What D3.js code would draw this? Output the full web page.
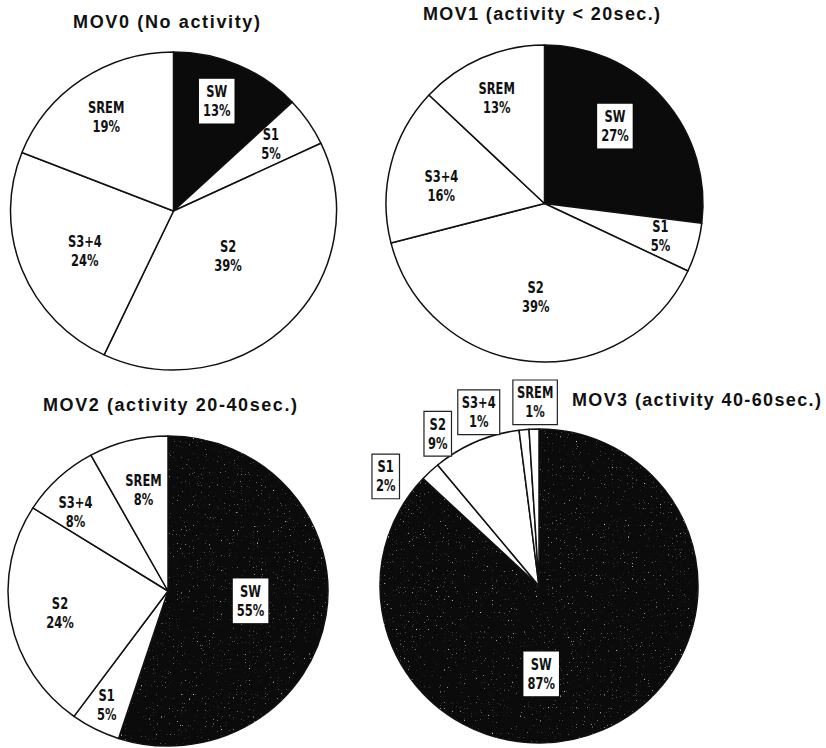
<!DOCTYPE html>
<html>
<head>
<meta charset="utf-8">
<script src="https://cdn.jsdelivr.net/npm/d3@7/dist/d3.min.js"></script>
<style>
  html, body { margin: 0; padding: 0; background: #fff; }
  svg { display: block; }
  .title { font-family: "Liberation Sans", Arial, sans-serif; font-weight: bold; font-size: 18px; fill: #111; }
  .lbl { font-family: "DejaVu Sans Condensed", "Liberation Sans Narrow", sans-serif; font-weight: bold; font-size: 16px; fill: #111; }
</style>
</head>
<body>
<svg id="chart" width="826" height="748"></svg>
<script>
// Sleep stage shares (%) for each movement class
const stages = ["SW", "S1", "S2", "S3+4", "SREM"];
const mov0 = [13, 5, 39, 24, 19];
const mov1 = [27, 5, 39, 16, 13];
const mov2 = [55, 5, 24, 8, 8];
const mov3 = [87, 2, 9, 1, 1];
const titles = [
  "MOV0 (No activity)",
  "MOV1 (activity < 20sec.)",
  "MOV2 (activity 20-40sec.)",
  "MOV3 (activity 40-60sec.)"
];
const seriesList = [mov0, mov1, mov2, mov3];

// Layout for each pie: centre, radii, title placement, and label placement
// (label radius as a fraction of the pie radius, angular nudge in degrees,
// whether the label sits in a box).
const layout = [
  { cx: 173.5, cy: 211, rx: 163, ry: 159, grain: false,
    title: { x: 73, y: 28, w: 187 },
    labels: [
      { f: 0.74, da: -2.4, box: "fill" },
      { f: 0.73, da: -0.8 },
      { f: 0.44, da: -4.6 },
      { f: 0.60, da: -3.4 },
      { f: 0.72, da: -0.8 }
    ] },
  { cx: 544.5, cy: 203.5, rx: 158.5, ry: 158.5, grain: false,
    title: { x: 423, y: 19.5, w: 237 },
    labels: [
      { f: 0.66, da: -6.3, box: "fill" },
      { f: 0.76, da: -0.5 },
      { f: 0.59, da: 0 },
      { f: 0.66, da: -4.8 },
      { f: 0.73, da: -1 }
    ] },
  { cx: 168, cy: 591, rx: 160, ry: 155, grain: true,
    title: { x: 43, y: 411, w: 254 },
    labels: [
      { f: 0.52, da: -2, box: "fill" },
      { f: 0.83, da: 0.5 },
      { f: 0.69, da: -1.2 },
      { f: 0.77, da: -5.5 },
      { f: 0.67, da: 1.2 }
    ] },
  { cx: 539, cy: 586, rx: 159, ry: 157, grain: true,
    title: { x: 572, y: 406, w: 249 },
    labels: [
      { f: 0.56, da: 22, box: "fill" },
      { f: 1.19, da: -10.9, box: "outline" },
      { f: 1.16, da: -9.9, box: "outline" },
      { f: 1.17, da: -13.5, box: "outline" },
      { f: 1.17, da: 0.6, box: "outline" }
    ] }
];

const sliceColor = d3.scaleOrdinal()
  .domain(stages)
  .range(["#0b0b0b", "#fff", "#fff", "#fff", "#fff"]);

const svg = d3.select("#chart");

// Speckled halftone texture for the dark slices of the lower pies
const defs = svg.append("defs");
const grain = defs.append("filter")
  .attr("id", "grain")
  .attr("x", "-2%").attr("y", "-2%").attr("width", "104%").attr("height", "104%")
  .attr("color-interpolation-filters", "sRGB");
grain.append("feTurbulence")
  .attr("type", "fractalNoise").attr("baseFrequency", 0.75)
  .attr("numOctaves", 1).attr("seed", 7).attr("result", "noise");
grain.append("feColorMatrix")
  .attr("in", "noise").attr("type", "matrix")
  .attr("values", "0 0 0 0 0.8  0 0 0 0 0.8  0 0 0 0 0.8  7 0 0 0 -4.75")
  .attr("result", "specks");
grain.append("feComposite")
  .attr("in", "specks").attr("in2", "SourceAlpha")
  .attr("operator", "in").attr("result", "clipped");
const merge = grain.append("feMerge");
merge.append("feMergeNode").attr("in", "SourceGraphic");
merge.append("feMergeNode").attr("in", "clipped");

const pie = d3.pie().sort(null).value(d => d.value);
const labelSqueeze = 0.8;

seriesList.forEach((values, i) => {
  const L = layout[i];
  const data = stages.map((s, k) => ({ stage: s, value: values[k] }));
  const arcs = pie(data);
  const arc = d3.arc().innerRadius(0).outerRadius(L.rx);

  // Title, letter-spaced to its width
  svg.append("text")
    .attr("class", "title")
    .attr("x", L.title.x).attr("y", L.title.y)
    .attr("textLength", L.title.w)
    .attr("lengthAdjust", "spacing")
    .text(titles[i]);

  // Slices (scaled vertically for the slightly oval pies)
  const g = svg.append("g")
    .attr("transform", `translate(${L.cx},${L.cy}) scale(1,${L.ry / L.rx})`);
  g.selectAll("path")
    .data(arcs)
    .join("path")
    .attr("d", arc)
    .attr("fill", d => sliceColor(d.data.stage))
    .attr("stroke", "#111")
    .attr("stroke-width", 1.5)
    .attr("stroke-linejoin", "round")
    .attr("vector-effect", "non-scaling-stroke")
    .attr("filter", d => (L.grain && d.data.stage === "SW") ? "url(#grain)" : null);

  // Labels: stage name over percentage, narrow lettering
  arcs.forEach((a, k) => {
    const lp = L.labels[k];
    const ang = (a.startAngle + a.endAngle) / 2 + lp.da * Math.PI / 180;
    const x = L.cx + lp.f * L.rx * Math.sin(ang);
    const y = L.cy - lp.f * L.ry * Math.cos(ang);
    const lg = svg.append("g")
      .attr("transform", `translate(${x},${y}) scale(${labelSqueeze},1)`);
    const box = lg.append("rect");
    const t = lg.append("text")
      .attr("class", "lbl")
      .attr("text-anchor", "middle");
    t.append("tspan").attr("x", 0).attr("y", -4).text(a.data.stage);
    t.append("tspan").attr("x", 0).attr("y", 15).text(a.data.value + "%");
    if (lp.box) {
      const bb = t.node().getBBox();
      const px = 4 / labelSqueeze, py = 4;
      box.attr("x", bb.x - px).attr("y", bb.y - py)
        .attr("width", bb.width + 2 * px).attr("height", bb.height + 2 * py)
        .attr("fill", "#fff")
        .attr("stroke", lp.box === "outline" ? "#222" : "none")
        .attr("stroke-width", 1.2)
        .attr("vector-effect", "non-scaling-stroke");
    } else {
      box.remove();
    }
  });
});
</script>
</body>
</html>
